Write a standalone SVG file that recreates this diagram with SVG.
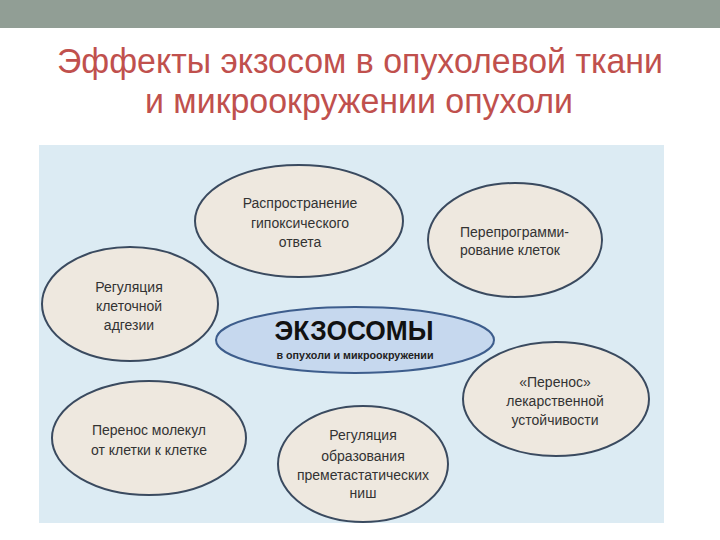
<svg xmlns="http://www.w3.org/2000/svg" width="720" height="540" viewBox="0 0 720 540">
<style>
.title{font-family:"Liberation Sans",Arial,sans-serif;font-size:35px;fill:#c0504d;text-anchor:middle}
.node{fill:#eee8df;stroke:#3a4a5f;stroke-width:2}
.lbl{font-family:"Liberation Sans",Arial,sans-serif;font-size:14px;fill:#333333;text-anchor:middle}
</style>
<rect x="0" y="0" width="720" height="540" fill="#ffffff"/>
<rect x="0" y="0" width="720" height="28" fill="#919e95"/>
<text class="title" x="360" y="73" textLength="606" lengthAdjust="spacingAndGlyphs">Эффекты экзосом в опухолевой ткани</text>
<text class="title" x="359" y="113" textLength="428" lengthAdjust="spacingAndGlyphs">и микроокружении опухоли</text>
<rect x="39" y="145" width="625" height="378" fill="#dcebf3"/>
<g id="connectors"></g>
<g id="n-hypoxia">
<ellipse class="node" cx="299" cy="221" rx="104" ry="56"/>
<text class="lbl" x="300" y="208">Распространение</text>
<text class="lbl" x="300" y="228">гипоксического</text>
<text class="lbl" x="300" y="247">ответа</text>
</g>
<g id="n-reprog">
<ellipse class="node" cx="515" cy="240" rx="87" ry="57"/>
<text class="lbl" x="460" y="237" style="text-anchor:start">Перепрограмми-</text>
<text class="lbl" x="460" y="255" style="text-anchor:start">рование клеток</text>
</g>
<g id="n-adhesion">
<ellipse class="node" cx="130" cy="304" rx="88" ry="57"/>
<text class="lbl" x="129" y="292">Регуляция</text>
<text class="lbl" x="129" y="311">клеточной</text>
<text class="lbl" x="129" y="330">адгезии</text>
</g>
<g id="n-exosomes">
<ellipse cx="355" cy="340" rx="139" ry="33" fill="#c6d8ee" stroke="#3d5d8c" stroke-width="2"/>
<text x="354" y="340" font-family="Liberation Sans,Arial,sans-serif" font-size="27" font-weight="bold" fill="#111111" text-anchor="middle" textLength="159" lengthAdjust="spacingAndGlyphs">ЭКЗОСОМЫ</text>
<text x="355" y="359" font-family="Liberation Sans,Arial,sans-serif" font-size="10" font-weight="bold" fill="#222222" text-anchor="middle" textLength="157" lengthAdjust="spacingAndGlyphs">в опухоли и микроокружении</text>
</g>
<g id="n-transfer">
<ellipse class="node" cx="149" cy="438" rx="97" ry="57"/>
<text class="lbl" x="149" y="435">Перенос молекул</text>
<text class="lbl" x="149" y="455">от клетки к клетке</text>
</g>
<g id="n-niche">
<ellipse class="node" cx="363" cy="464" rx="85" ry="58"/>
<text class="lbl" x="363" y="440">Регуляция</text>
<text class="lbl" x="363" y="461">образования</text>
<text class="lbl" x="363" y="480">преметастатических</text>
<text class="lbl" x="363" y="498">ниш</text>
</g>
<g id="n-drug">
<ellipse class="node" cx="556" cy="399" rx="93" ry="57"/>
<text class="lbl" x="555" y="387">«Перенос»</text>
<text class="lbl" x="555" y="406">лекарственной</text>
<text class="lbl" x="555" y="425">устойчивости</text>
</g>
</svg>
